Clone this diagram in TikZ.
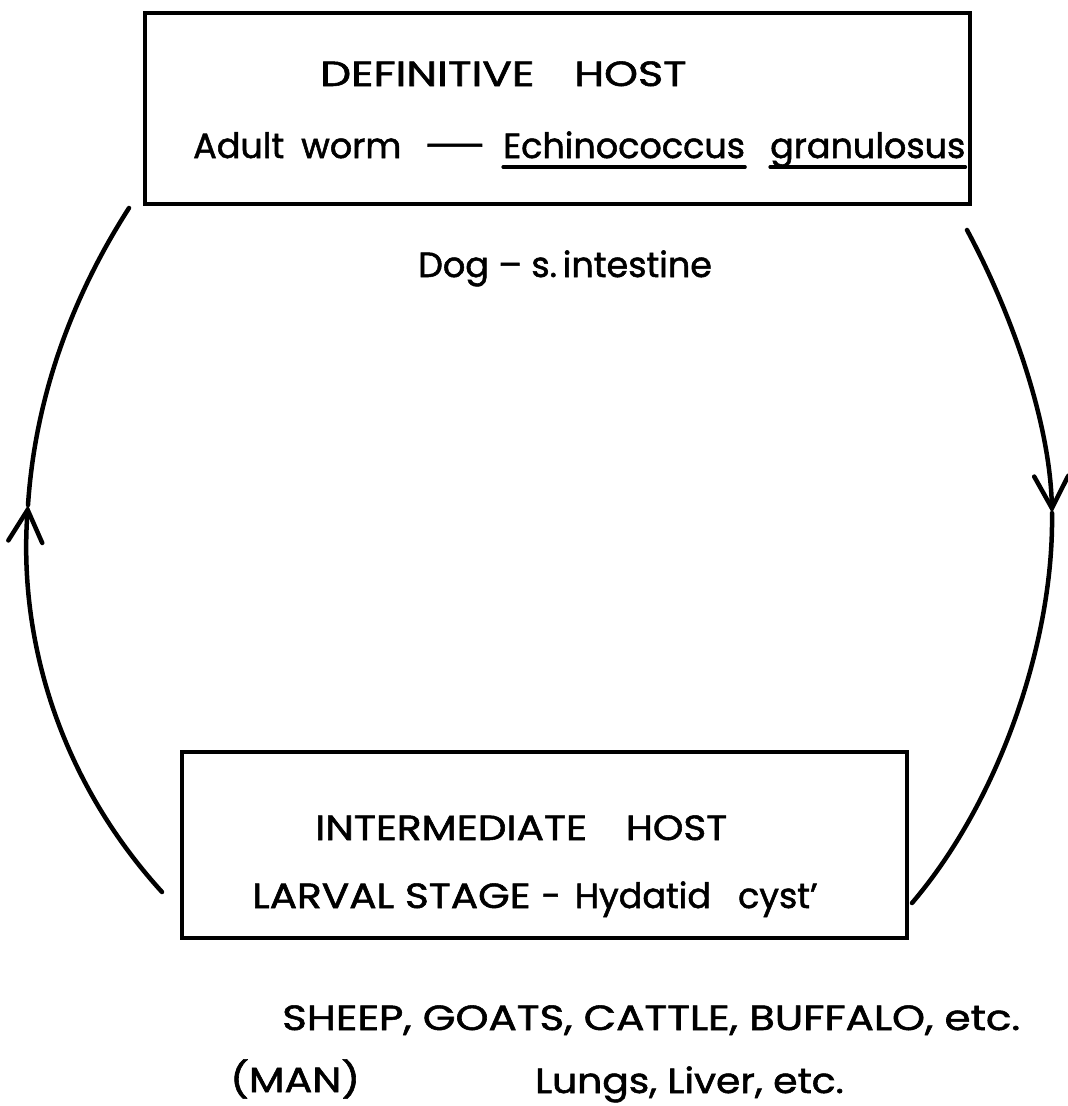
\documentclass[tikz,border=0pt]{standalone}
\usepackage{fontspec}
\setmainfont{Poppins}[FakeBold=1.5]
\usetikzlibrary{arrows.meta}
\newcommand{\widecaps}[2][1.2]{\scalebox{#1}[1]{#2}}
\begin{document}
\begin{tikzpicture}[x=1pt,y=-1pt,
  box/.style={draw, line width=4pt, inner sep=0pt},
  lbl/.style={anchor=base west, inner sep=0pt, font=\fontsize{35}{40}\selectfont},
  arc/.style={line width=4.5pt, line cap=round},
  barb/.style={-{Straight Barb[length=32pt,width=34pt,line cap=round]}},
  uline/.style={line width=3.2pt, line cap=round}]
\useasboundingbox (0,0) rectangle (1068,1106);
% boxes
\node[box, minimum width=825pt, minimum height=191pt] (defbox) at (557.5,108.5) {};
\node[box, minimum width=725pt, minimum height=186pt] (intbox) at (544.5,845) {};
% top box texts
\node[lbl] (defhost) at (320,86) {\widecaps[1.25]{DEFINITIVE}\hspace{40pt}\widecaps[1.23]{HOST}};
\node[lbl] (adult) at (193,158) {Adult\hspace{17pt}worm\hspace{21pt}\scalebox{2.1}[1]{—}};
\node[lbl] (ech) at (503,158) {Echinococcus};
\node[lbl] (gran) at (770,158) {granulosus};
\draw[uline] ([yshift=-9pt]ech.base west) -- ([yshift=-9pt]ech.base east);
\draw[uline] ([yshift=-9pt]gran.base west) -- ([yshift=-9pt]gran.base east);
\node[lbl] (dog) at (418,277) {Dog – s.\,intestine};
% bottom box texts
\node[lbl] (inter) at (315,840) {\widecaps[1.165]{INTERMEDIATE}\hspace{39pt}\widecaps[1.11]{HOST}};
\node[lbl] (larval) at (252,908) {\widecaps[1.16]{LARVAL STAGE}\hspace{11pt}-\hspace{14pt}Hydatid\hspace{27pt}cyst'};
\node[lbl] (sheep) at (282,1030) {\widecaps[1.2]{SHEEP, GOATS, CATTLE, BUFFALO, etc.}};
\node[lbl] (man) at (230,1092) {\widecaps[1.18]{(MAN)}};
\node[lbl] (lungs) at (535,1093) {\widecaps[1.12]{Lungs, Liver, etc.}};
% arc end points
\coordinate (lbot) at (162,892);
\coordinate (ltip) at (28,505);
\coordinate (ltop) at (129,208);
\coordinate (rtop) at (967,230);
\coordinate (rtip) at (1052,513);
\coordinate (rbot) at (912,903);
% arcs
\draw[arc, barb] (lbot) .. controls (60,780) and (18,640) .. (ltip);
\draw[arc] (ltip) .. controls (35,400) and (70,300) .. (ltop);
\draw[arc, barb] (rtop) .. controls (1010,310) and (1050,420) .. (rtip);
\draw[arc] (rtip) .. controls (1054,640) and (1000,800) .. (rbot);
\end{tikzpicture}
\end{document}
